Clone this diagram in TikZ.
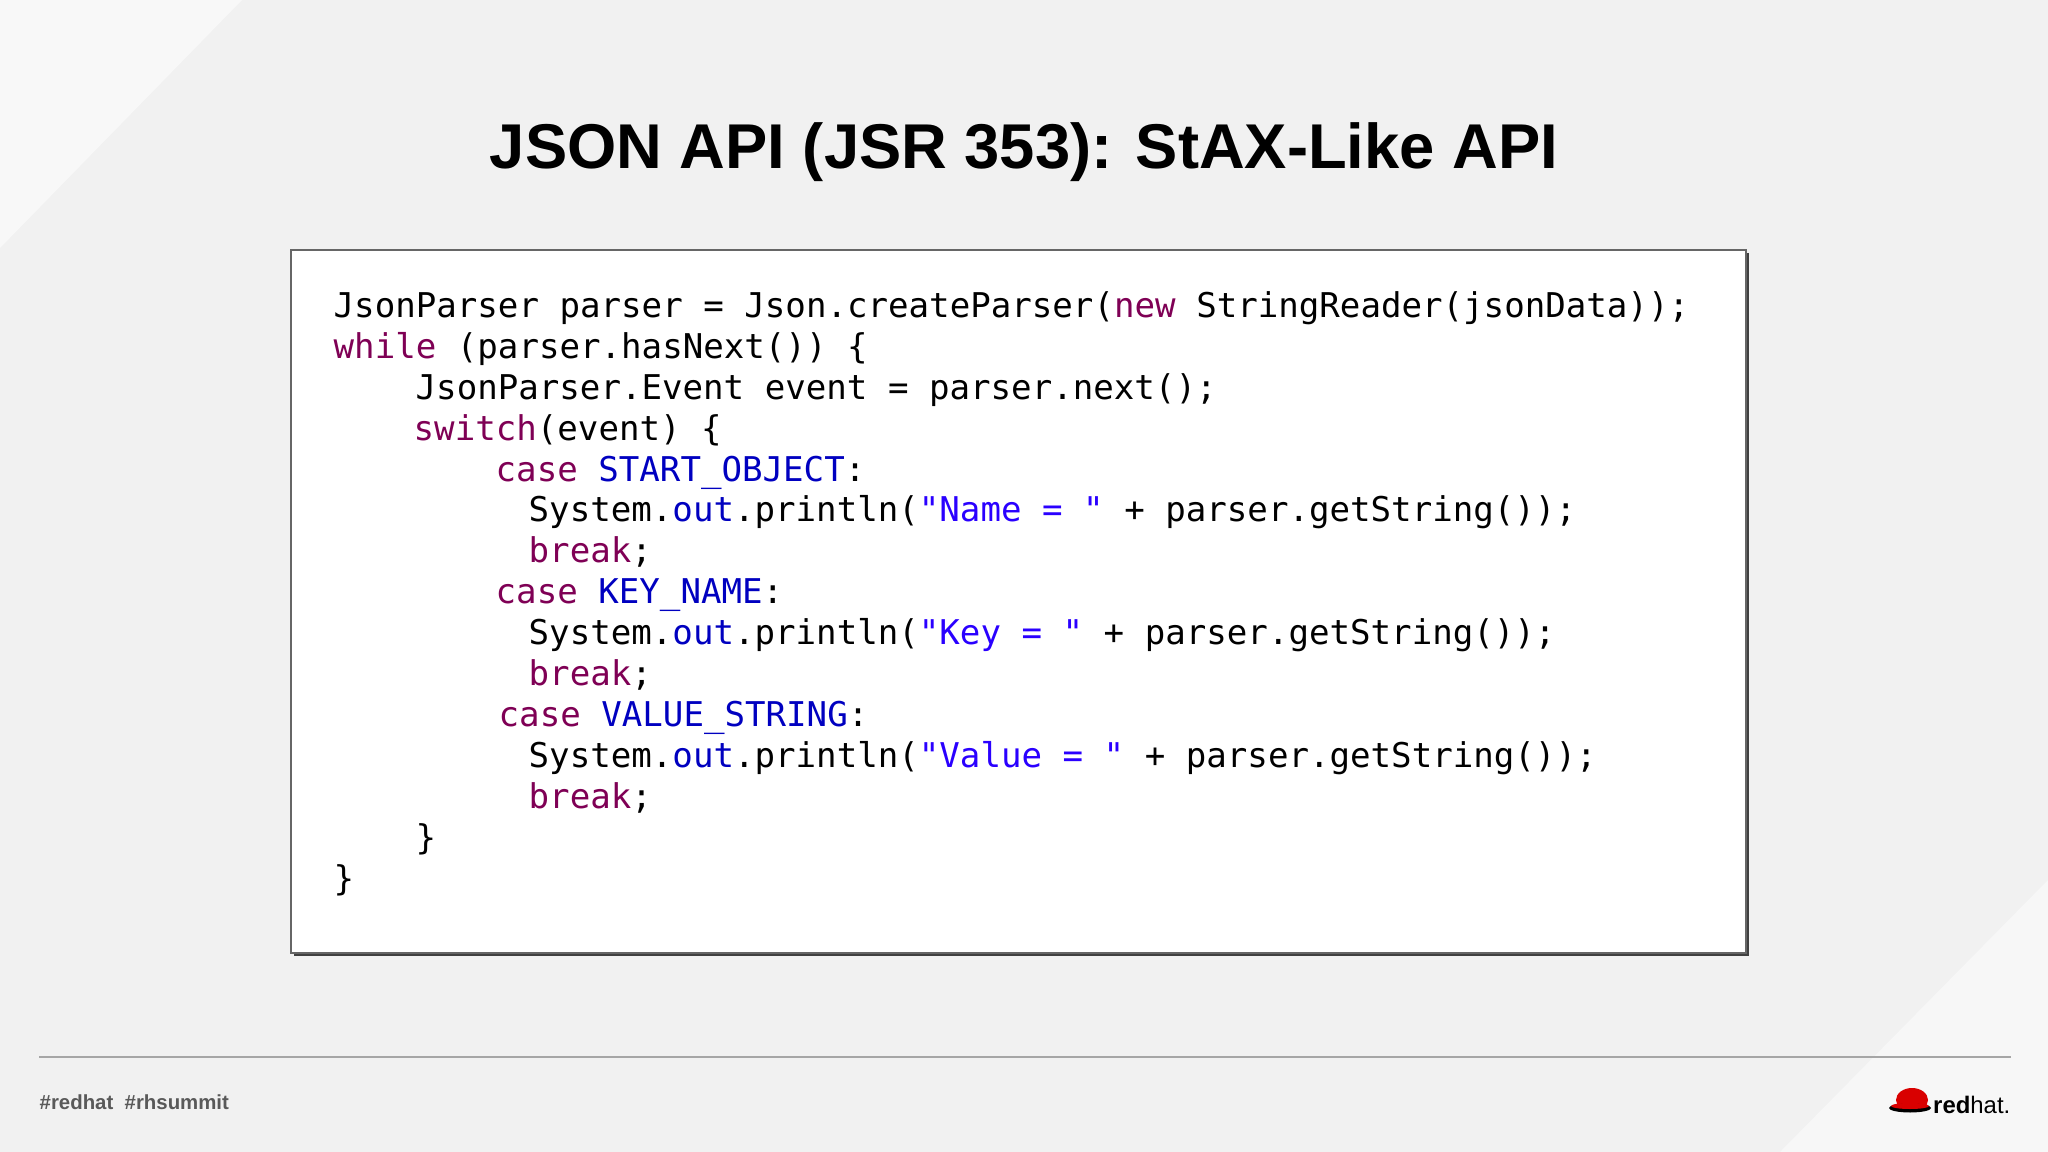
\documentclass[tikz,border=0pt]{standalone}
\usepackage{fontspec}
\setmainfont{Liberation Sans}
\newfontfamily\codef{DejaVu Sans Mono}
\definecolor{bg}{HTML}{F1F1F1}
\definecolor{kwc}{HTML}{7F0055}
\definecolor{cnc}{HTML}{0000C0}
\definecolor{stc}{HTML}{2A00FF}
\newcommand{\kwd}[1]{\textcolor{kwc}{#1}}
\newcommand{\cst}[1]{\textcolor{cnc}{#1}}
\newcommand{\strg}[1]{\textcolor{stc}{#1}}
\begin{document}
\begin{tikzpicture}[x=0.01cm,y=-0.01cm,
  codeline/.style={anchor=base west,inner sep=0pt,font=\codef\fontsize{9.7pt}{11pt}\selectfont}]
\useasboundingbox (0,0) rectangle (2048,1152);
\fill[bg] (0,0) rectangle (2048,1152);
\fill[white!50!bg] (0,0) -- (242,0) -- (0,248) -- cycle;
\fill[white!40!bg] (2048,880) -- (2048,1152) -- (1780,1152) -- cycle;
\node[font=\bfseries\fontsize{18pt}{22pt}\selectfont] (title) at (1024,152) {JSON API (JSR 353): StAX-Like API};
\fill[black!75] (294,253) rectangle (1749,956);
\node[draw=black!60,line width=0.6pt,fill=white,minimum width=1455*0.01cm,minimum height=703*0.01cm,anchor=north west,inner sep=0pt] (box) at (290,249) {};
\def\bl#1{317.5+40.9*#1}
\node[codeline] (l0) at (333,{\bl{0}}) {JsonParser parser = Json.createParser(\kwd{new} StringReader(jsonData));};
\node[codeline] (l1) at (333,{\bl{1}}) {\kwd{while} (parser.hasNext()) \{};
\node[codeline] (l2) at (415,{\bl{2}}) {JsonParser.Event event = parser.next();};
\node[codeline] (l3) at (413,{\bl{3}}) {\kwd{switch}(event) \{};
\node[codeline] (l4) at (495,{\bl{4}}) {\kwd{case} \cst{START\_OBJECT}:};
\node[codeline] (l5) at (528,{\bl{5}}) {System.\cst{out}.println(\strg{"Name = "} + parser.getString());};
\node[codeline] (l6) at (528,{\bl{6}}) {\kwd{break};};
\node[codeline] (l7) at (495,{\bl{7}}) {\kwd{case} \cst{KEY\_NAME}:};
\node[codeline] (l8) at (528,{\bl{8}}) {System.\cst{out}.println(\strg{"Key = "} + parser.getString());};
\node[codeline] (l9) at (528,{\bl{9}}) {\kwd{break};};
\node[codeline] (l10) at (498,{\bl{10}}) {\kwd{case} \cst{VALUE\_STRING}:};
\node[codeline] (l11) at (528,{\bl{11}}) {System.\cst{out}.println(\strg{"Value = "} + parser.getString());};
\node[codeline] (l12) at (528,{\bl{12}}) {\kwd{break};};
\node[codeline] (l13) at (415,{\bl{13}}) {\}};
\node[codeline] (l14) at (333,{\bl{14}}) {\}};
\coordinate (fl) at (39,1057);
\coordinate (fr) at (2011,1057);
\draw[black!35,line width=0.6pt] (fl) -- (fr);
\node[anchor=west,inner sep=0pt,text=black!65,font=\bfseries\fontsize{5.8pt}{7pt}\selectfont] (tags) at (39,1102) {\#redhat\ \ \#rhsummit};
\node[anchor=east,inner sep=0pt,font=\fontsize{6.8pt}{8pt}\selectfont] (rh) at (2011,1105) {\textbf{red}hat.};
\fill[red!85!black] (1912,1100) ellipse (16 and 12);
\fill[black] (1910,1108) ellipse (21 and 4.5);
\fill[red!85!black] (1910,1106) ellipse (19 and 3);
\end{tikzpicture}
\end{document}
